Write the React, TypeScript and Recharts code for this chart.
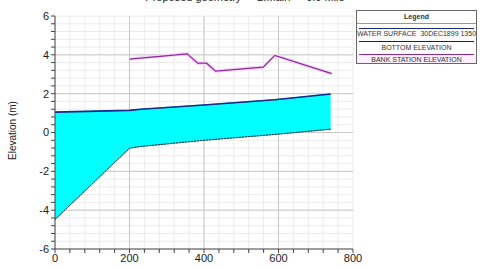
import React from 'react';
import { ComposedChart, Area, Line, XAxis, YAxis, CartesianGrid } from 'recharts';

document.body.style.margin = '0';

const stations = [0, 200, 230, 400, 590, 740];
const waterSurface = [1.05, 1.14, 1.2, 1.42, 1.69, 1.98];
const bottomElevation = [-4.48, -0.81, -0.72, -0.4, -0.1, 0.17];

const bankStations = [200, 355, 383, 407, 431, 559, 590, 743];
const bankElevation = [3.78, 4.05, 3.57, 3.57, 3.16, 3.37, 3.97, 3.03];

const xTicks = [0, 40, 80, 120, 160, 200, 240, 280, 320, 360, 400, 440, 480, 520, 560, 600, 640, 680, 720, 760, 800];
const yTicks = [-6, -5.6, -5.2, -4.8, -4.4, -4, -3.6, -3.2, -2.8, -2.4, -2, -1.6, -1.2, -0.8, -0.4, 0, 0.4, 0.8, 1.2, 1.6, 2, 2.4, 2.8, 3.2, 3.6, 4, 4.4, 4.8, 5.2, 5.6, 6];
const xMajor = [200, 400, 600];
const yMajor = [-4, -2, 0, 2, 4];

const sectionData = stations.map((s, i) => ({ station: s, water: waterSurface[i], bottom: bottomElevation[i] }));
const bankData = bankStations.map((s, i) => ({ station: s, bank: bankElevation[i] }));

const font = '"Liberation Sans", Arial, sans-serif';

const Legend = () => (
    <div
        style={{
            position: 'absolute',
            left: 356,
            top: 10,
            width: 119,
            height: 52,
            border: '1px solid #666',
            background: '#fff',
            fontFamily: font,
            fontSize: 7,
            color: '#333',
            textAlign: 'center',
            lineHeight: '8px',
        }}
    >
        <div style={{ fontWeight: 'bold', height: 12, lineHeight: '12px', borderBottom: '1px solid #999' }}>Legend</div>
        <div style={{ height: 4, borderBottom: '1.5px solid #1a2a8a', margin: '0 2px' }} />
        <div style={{ height: 9, lineHeight: '10px', whiteSpace: 'nowrap' }}>WATER SURFACE&nbsp; 30DEC1899 1350</div>
        <div style={{ height: 3, borderBottom: '1px solid #222', margin: '0 2px' }} />
        <div style={{ height: 9, lineHeight: '11px' }}>BOTTOM ELEVATION</div>
        <div style={{ height: 3, borderBottom: '1.5px solid #8a2a9a', margin: '0 2px' }} />
        <div style={{ height: 8, lineHeight: '10px', background: '#fbf0fb' }}>BANK STATION ELEVATION</div>
    </div>
);

export default function App() {
    return (
        <div style={{ position: 'relative', width: 480, height: 270, background: '#fff', overflow: 'hidden' }}>
            <div
                style={{
                    position: 'absolute',
                    top: -9,
                    left: 0,
                    width: 490,
                    textAlign: 'center',
                    fontFamily: font,
                    fontSize: 11,
                    color: '#222',
                    whiteSpace: 'pre',
                }}
            >
                {'Proposed geometry  -  2.Main  -  0.0 Mile'}
            </div>
            <div
                style={{
                    position: 'absolute',
                    left: 12 - 40,
                    top: 125,
                    width: 80,
                    textAlign: 'center',
                    transform: 'rotate(-90deg)',
                    fontFamily: font,
                    fontSize: 10,
                    color: '#222',
                }}
            >
                Elevation (m)
            </div>
            <ComposedChart
                width={480}
                height={270}
                data={sectionData}
                margin={{ top: 16, right: 127, bottom: 0, left: 0 }}
                style={{ fontFamily: font }}
            >
                <CartesianGrid stroke="#ececec" strokeWidth={1} />
                <CartesianGrid stroke="#c8c8c8" strokeWidth={1} verticalValues={xMajor} horizontalValues={yMajor} />
                <XAxis
                    dataKey="station"
                    type="number"
                    domain={[0, 800]}
                    ticks={xTicks}
                    interval={0}
                    allowDataOverflow
                    height={21}
                    tickSize={4}
                    tickMargin={1}
                    stroke="#444"
                    tick={{ fill: '#222', fontSize: 11 }}
                    tickFormatter={(v: number) => (v % 200 === 0 ? String(v) : '')}
                />
                <YAxis
                    type="number"
                    domain={[-6, 6]}
                    ticks={yTicks}
                    interval={0}
                    allowDataOverflow
                    width={55}
                    tickSize={4}
                    tickMargin={2}
                    stroke="#444"
                    tick={{ fill: '#222', fontSize: 11 }}
                    tickFormatter={(v: number) => (Math.abs(v % 2) < 0.001 ? String(v) : '')}
                />
                <Area
                    dataKey={(d: { water: number; bottom: number }) => [d.bottom, d.water]}
                    type="linear"
                    fill="#00ffff"
                    fillOpacity={1}
                    stroke="#3aa8b8"
                    strokeWidth={1}
                    isAnimationActive={false}
                />
                <Line
                    dataKey="bottom"
                    type="linear"
                    stroke="#1a3040"
                    strokeWidth={1}
                    strokeDasharray="2 1"
                    dot={false}
                    isAnimationActive={false}
                />
                <Line
                    dataKey="water"
                    type="linear"
                    stroke="#1a2a8a"
                    strokeWidth={1.6}
                    dot={false}
                    isAnimationActive={false}
                />
                <Line
                    data={bankData}
                    dataKey="bank"
                    type="linear"
                    stroke="#f6d6f6"
                    strokeWidth={3.5}
                    dot={false}
                    isAnimationActive={false}
                />
                <Line
                    data={bankData}
                    dataKey="bank"
                    type="linear"
                    stroke="#8a2a9a"
                    strokeWidth={1.2}
                    dot={false}
                    isAnimationActive={false}
                />
            </ComposedChart>
            <Legend />
        </div>
    );
}
